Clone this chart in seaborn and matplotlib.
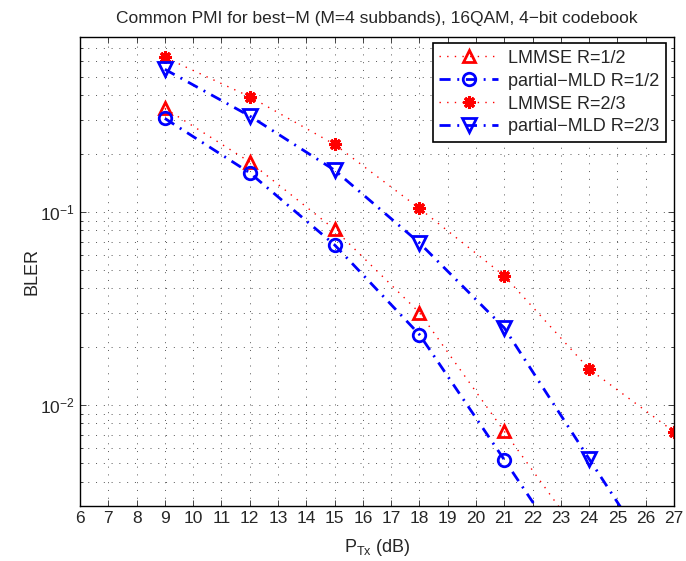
import matplotlib
matplotlib.use("Agg")
import matplotlib.pyplot as plt
import matplotlib.ticker as mticker
import seaborn as sns
import pandas as pd
import numpy as np

# Data
x_vals = [9, 12, 15, 18, 21, 24, 27]
lmmse_12 = [0.343, 0.181, 0.081, 0.030, 0.00728, 0.0018, None]
pmld_12 = [0.304, 0.159, 0.0673, 0.0231, 0.00519, 0.00115, None]
lmmse_23 = [0.63, 0.394, 0.223, 0.104, 0.0465, 0.0153, 0.00725]
pmld_23 = [0.546, 0.313, 0.164, 0.0689, 0.025, 0.00524, 0.00111]

labels = ["LMMSE R=1/2", "partial\u2212MLD R=1/2", "LMMSE R=2/3", "partial\u2212MLD R=2/3"]
title = "Common PMI for best\u2212M (M=4 subbands), 16QAM, 4\u2212bit codebook"

sns.set_style("ticks")
plt.rcParams['font.family'] = ['Liberation Sans', 'DejaVu Sans']
plt.rcParams['mathtext.default'] = 'regular'
plt.rcParams['axes.unicode_minus'] = True

fig = plt.figure(figsize=(6.86, 5.61), dpi=100)
ax = fig.add_axes([80/686, 1-505.7/561, (674-80)/686, (505.7-37.3)/561])

dotted = (0, (1, 4.5))
dashdot = (0, (4, 2.4, 0.7, 2.4))
series = [
    (lmmse_12, labels[0], dict(color='red', linestyle=dotted, linewidth=1.0, marker='^',
                               markersize=9, markerfacecolor='none', markeredgecolor='red', markeredgewidth=2)),
    (pmld_12, labels[1], dict(color='blue', linestyle=dashdot, linewidth=2.0, marker='o',
                              markersize=9, markerfacecolor='none', markeredgecolor='blue', markeredgewidth=2)),
    (lmmse_23, labels[2], dict(color='red', linestyle=dotted, linewidth=1.0, marker=(8, 2, 0),
                               markersize=9, markerfacecolor='red', markeredgecolor='red', markeredgewidth=2.2)),
    (pmld_23, labels[3], dict(color='blue', linestyle=dashdot, linewidth=2.0, marker='v',
                              markersize=10, markerfacecolor='none', markeredgecolor='blue', markeredgewidth=2)),
]

for vals, lab, kw in series:
    df = pd.DataFrame({"x": x_vals, "y": vals}).dropna()
    sns.lineplot(data=df, x="x", y="y", ax=ax, label=lab, **kw)

ax.set_yscale('log')
ax.set_xlim(6, 27)
ax.set_ylim(0.003, 0.8)
ax.set_xticks(range(6, 28))
ax.set_yticks([0.01, 0.1])
ax.set_yticklabels(["10$^{-2}$", "10$^{-1}$"])
ax.yaxis.set_minor_locator(mticker.LogLocator(base=10, subs=np.arange(2, 10)))
ax.yaxis.set_minor_formatter(mticker.NullFormatter())

gridls = (0, (1, 7))
ax.grid(True, which='major', axis='both', color='#555555', linestyle=gridls, linewidth=0.7)
ax.grid(True, which='minor', axis='y', color='#555555', linestyle=gridls, linewidth=0.7)

ax.tick_params(which='both', direction='in', top=True, right=True, labelsize=12.5, length=4, width=0.6)
ax.tick_params(which='minor', length=2)
for s in ax.spines.values():
    s.set_linewidth(1.0)
    s.set_color('black')

ax.set_xlabel("P$_{Tx}$ (dB)", fontsize=13, labelpad=8)
ax.set_ylabel("BLER", fontsize=13, labelpad=0)
ax.set_title(title, fontsize=12.5, pad=10)

leg = ax.legend(loc='upper right', bbox_to_anchor=(1-8/594, 1-6/468.4), fontsize=13,
                frameon=True, fancybox=False, edgecolor='black', framealpha=1,
                handlelength=3.3, borderpad=0.35, labelspacing=0.33, handletextpad=0.55,
                borderaxespad=0)
leg.get_frame().set_linewidth(1.2)

fig.savefig("out.png", dpi=100)
